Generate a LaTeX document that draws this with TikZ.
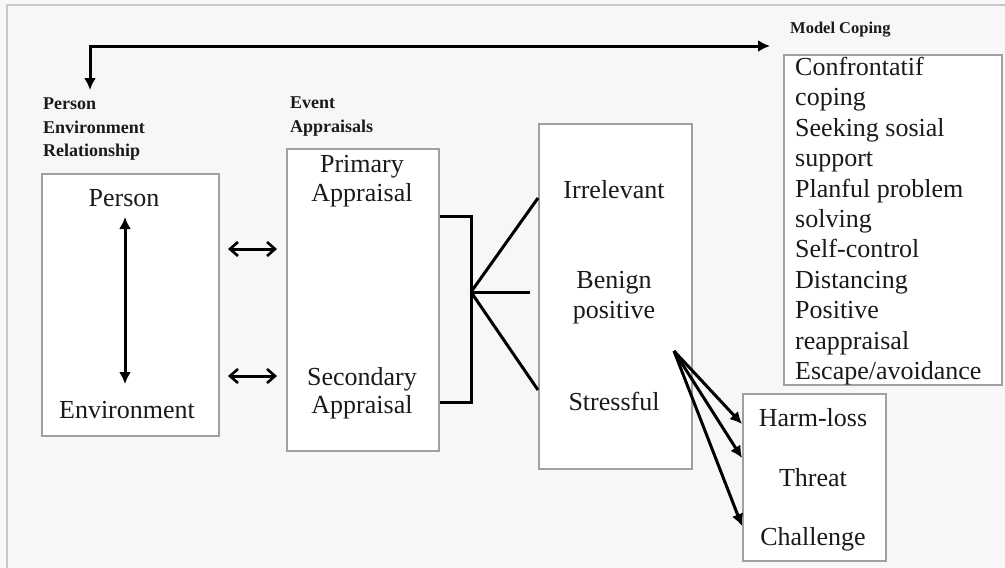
\documentclass[tikz,border=0pt]{standalone}
\usepackage{fontspec}
\setmainfont{Liberation Serif}
\usetikzlibrary{arrows.meta}
\definecolor{bgcol}{HTML}{F7F7F7}
\definecolor{framecol}{HTML}{C8C8C8}
\definecolor{boxgray}{HTML}{A0A0A0}
\definecolor{textcol}{HTML}{1A1A1A}
\begin{document}
\begin{tikzpicture}[x=1pt,y=-1pt,
  box/.style={draw=boxgray, line width=1.5pt, fill=white, inner sep=0pt, anchor=north west},
  txt/.style={inner sep=0pt, anchor=base, font=\fontsize{26}{30}\selectfont, text=textcol},
  ctxt/.style={inner sep=0pt, anchor=base west, font=\fontsize{26}{30}\selectfont, text=textcol},
  lbl/.style={inner sep=0pt, anchor=base west, font=\fontsize{18}{22}\selectfont\bfseries, text=textcol},
  conn/.style={line width=3pt, black},
  tip/.tip={Latex[length=12pt,width=12pt]},
  barb/.tip={Straight Barb[length=8pt,width=14pt,line width=2.6pt]},
  arr/.style={conn, -tip},
  dbl/.style={conn, barb-barb}]
\useasboundingbox (0,0) rectangle (1005,568);
\fill[bgcol] (0,0) rectangle (1005,568);
\draw[framecol, line width=1.5pt] (7,568) -- (7,5) -- (1005,5);

% boxes
\node[box, minimum width=177pt, minimum height=262pt] (pebox) at (41,173) {};
\node[box, minimum width=152pt, minimum height=302pt] (eabox) at (286,148) {};
\node[box, minimum width=153pt, minimum height=345pt] (mbox) at (538,123) {};
\node[box, minimum width=143pt, minimum height=167pt] (hbox) at (742,393) {};
\node[box, minimum width=218pt, minimum height=330pt] (cbox) at (783,54) {};

% labels
\node[lbl] (lp1) at (43,109) {Person};
\node[lbl] (lp2) at (43,133) {Environment};
\node[lbl] (lp3) at (43,156) {Relationship};
\node[lbl] (le1) at (290,108) {Event};
\node[lbl] (le2) at (290,132) {Appraisals};
\node[lbl, font=\fontsize{16.5}{20}\selectfont\bfseries] (lm) at (790,33) {Model Coping};

% texts
\node[txt] (person) at (124,206) {Person};
\node[txt] (env) at (127,418) {Environment};
\node[txt] (prim1) at (362,172) {Primary};
\node[txt] (prim2) at (362,201) {Appraisal};
\node[txt] (sec1) at (362,385) {Secondary};
\node[txt] (sec2) at (362,413) {Appraisal};
\node[txt] (irr) at (614,198) {Irrelevant};
\node[txt] (ben1) at (614,288) {Benign};
\node[txt] (ben2) at (614,318) {positive};
\node[txt] (str) at (614,410) {Stressful};
\node[txt] (harm) at (813,426) {Harm-loss};
\node[txt] (thr) at (813,486) {Threat};
\node[txt] (cha) at (813,545) {Challenge};

\foreach \t [count=\i from 0] in {Confrontatif, coping, Seeking sosial, support,
  Planful problem, solving, Self-control, Distancing, Positive, reappraisal, Escape/avoidance}
  \node[ctxt] (cl\i) at (795,{75.5+30.4*\i}) {\t};

% top feedback arrow
\coordinate (tipR) at (770,46);
\coordinate (tipD) at (90,90);
\draw[conn, tip-tip] (tipR) -- (90,46) -- (tipD);

% person <-> environment
\coordinate (pa) at (125,217);
\coordinate (pb) at (125,384);
\draw[conn, tip-tip] (pa) -- (pb);

% horizontal double arrows
\coordinate (d1a) at (228,249);
\coordinate (d1b) at (277,249);
\coordinate (d2a) at (228,376);
\coordinate (d2b) at (277,376);
\draw[dbl] (d1a) -- (d1b);
\draw[dbl] (d2a) -- (d2b);

% bracket and fan
\coordinate (hub) at (471,292);
\draw[conn] (eabox.east |- 0,216) -- (471,216) -- (471,402) -- (eabox.east |- 0,402);
\draw[conn] (hub) -- (mbox.west |- 0,198);
\draw[conn] (hub) -- (530,292);
\draw[conn] (hub) -- (mbox.west |- 0,390);

% stress arrows
\coordinate (so) at (674,351);
\draw[arr] (so) -- (hbox.west |- 0,424);
\draw[arr] (so) -- (hbox.west |- 0,458);
\draw[arr] (so) -- (hbox.west |- 0,526);
\end{tikzpicture}
\end{document}
